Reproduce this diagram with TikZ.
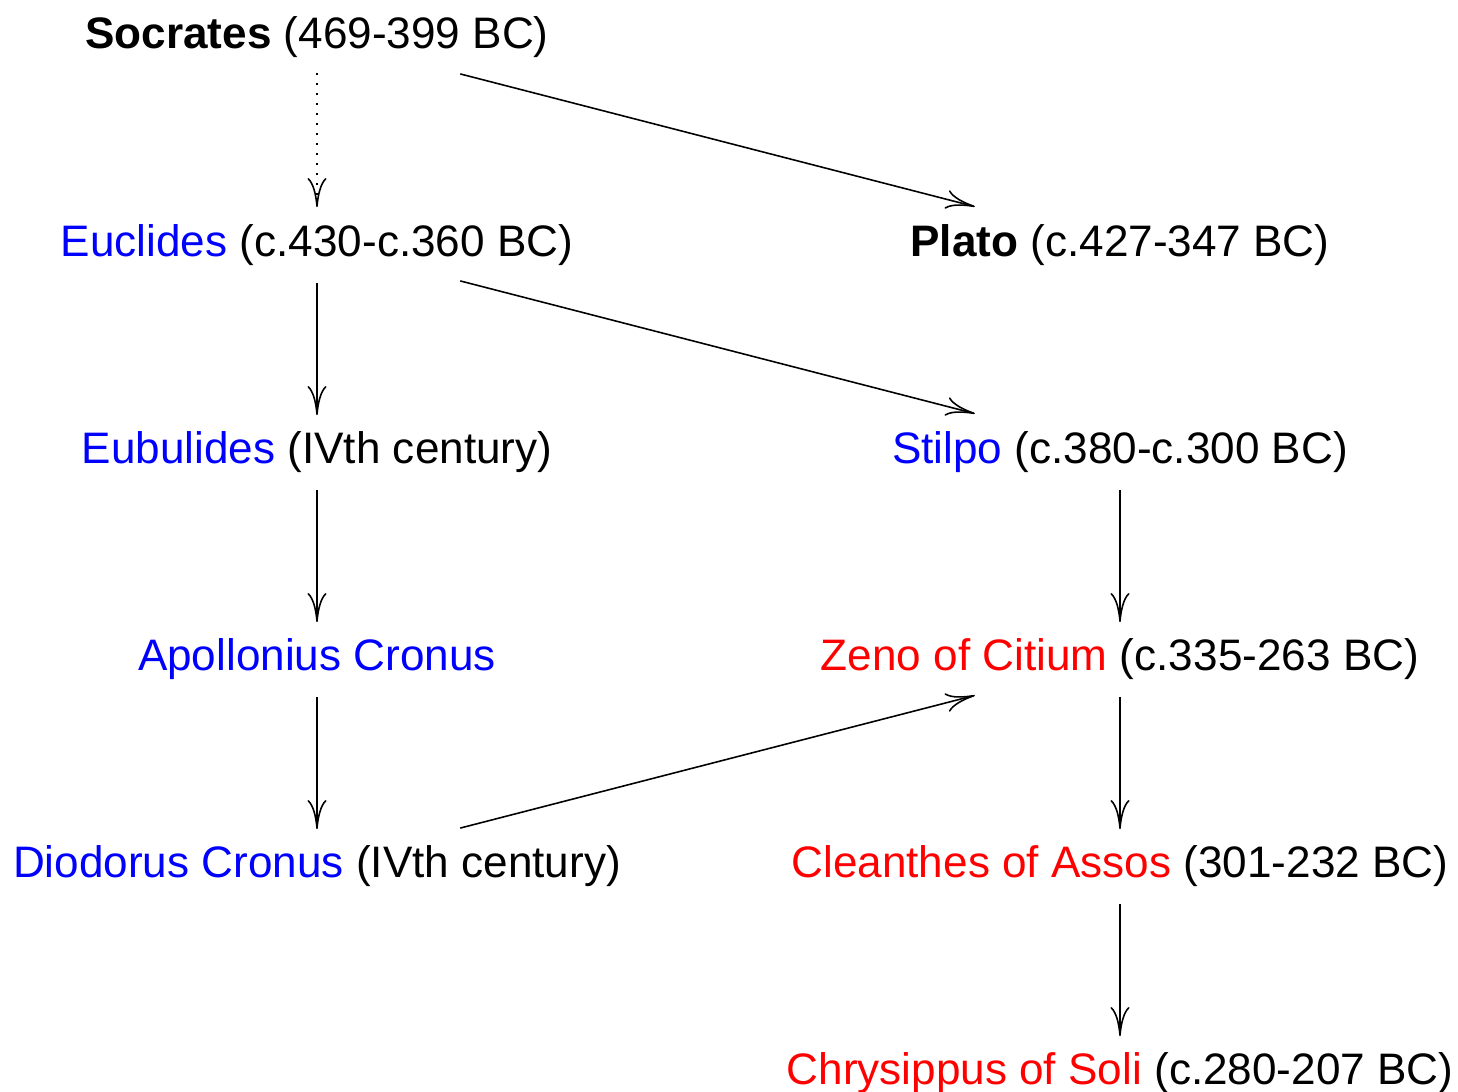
\documentclass[tikz,border=0pt]{standalone}
\usepackage{fontspec}
\setmainfont{Liberation Sans}
\usetikzlibrary{arrows.meta}
\definecolor{pblue}{RGB}{0,0,255}
\definecolor{pred}{RGB}{255,0,0}
\begin{document}
\begin{tikzpicture}[x=0.02cm,y=-0.02cm,
  lbl/.style={anchor=base,inner sep=0pt,font=\fontsize{25.1}{30}\selectfont},
  arr/.style={draw,line width=0.9pt,-{Computer Modern Rightarrow[length=0.58cm,width=0.38cm,line width=0.9pt]}},
  vshort/.style={shorten <=0.78cm,shorten >=0.72cm},
  dshort/.style={shorten <=2.96cm,shorten >=3.0cm}]
\useasboundingbox (0,0) rectangle (1458,1092);
% cell centres
\coordinate (L0) at (317,37);
\coordinate (L1) at (317,244);
\coordinate (L2) at (317,451);
\coordinate (L3) at (317,658);
\coordinate (L4) at (317,865);
\coordinate (R1) at (1120,244);
\coordinate (R2) at (1120,451);
\coordinate (R3) at (1120,658);
\coordinate (R4) at (1120,865);
\coordinate (R5) at (1120,1072);
% labels
\node[lbl] (socrates) at (317,49) {\textbf{Socrates} (469-399 BC)};
\node[lbl] (euclides) at (317,256) {\textcolor{pblue}{Euclides} (c.430-c.360 BC)};
\node[lbl] (eubulides) at (317,463) {\textcolor{pblue}{Eubulides} (IVth century)};
\node[lbl] (apollonius) at (317,670) {\textcolor{pblue}{Apollonius Cronus}};
\node[lbl] (diodorus) at (317,877) {\textcolor{pblue}{Diodorus Cronus} (IVth century)};
\node[lbl] (plato) at (1120,256) {\textbf{Plato} (c.427-347 BC)};
\node[lbl] (stilpo) at (1120,463) {\textcolor{pblue}{Stilpo} (c.380-c.300 BC)};
\node[lbl] (zeno) at (1120,670) {\textcolor{pred}{Zeno of Citium} (c.335-263 BC)};
\node[lbl] (cleanthes) at (1120,877) {\textcolor{pred}{Cleanthes of Assos} (301-232 BC)};
\node[lbl] (chrysippus) at (1120,1084) {\textcolor{pred}{Chrysippus of Soli} (c.280-207 BC)};
% connectors
\draw[arr,shorten <=0.72cm,shorten >=0.74cm,dash pattern=on 0.9pt off 4.8pt] (L0) -- (L1);
\draw[arr,dshort] (L0) -- (R1);
\draw[arr,vshort] (L1) -- (L2);
\draw[arr,dshort] (L1) -- (R2);
\draw[arr,vshort] (L2) -- (L3);
\draw[arr,vshort] (L3) -- (L4);
\draw[arr,dshort] (L4) -- (R3);
\draw[arr,vshort] (R2) -- (R3);
\draw[arr,vshort] (R3) -- (R4);
\draw[arr,vshort] (R4) -- (R5);
\end{tikzpicture}
\end{document}
